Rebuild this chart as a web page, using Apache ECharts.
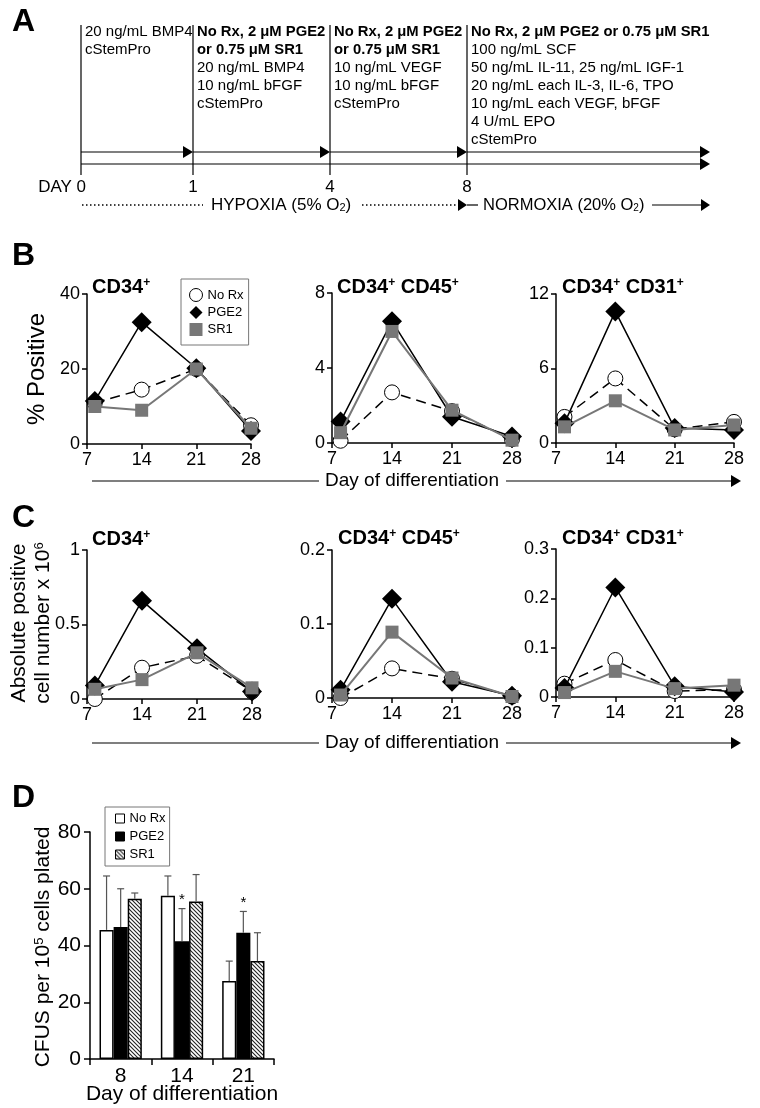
<!DOCTYPE html>
<html><head><meta charset="utf-8">
<script src="https://cdn.jsdelivr.net/npm/echarts@6/dist/echarts.min.js"></script>
<style>html,body{margin:0;padding:0;background:#fff}#c{width:760px;height:1108px}</style>
</head><body><div id="c"></div>
<script>
const FONT = '"Liberation Sans", Arial, Helvetica, sans-serif';

// ---------- DATA ----------
const days = [8, 14, 21, 28];
// Panel B: % positive
const pctCD34NoRx = [11, 14.5, 20, 5];
const pctCD34Pge2 = [11.5, 32.5, 20.2, 3.5];
const pctCD34Sr1  = [10, 9, 20, 4.2];
const pctCD45NoRx = [0.12, 2.7, 1.7, 0.2];
const pctCD45Pge2 = [1.15, 6.5, 1.4, 0.35];
const pctCD45Sr1  = [0.55, 5.95, 1.75, 0.15];
const pctCD31NoRx = [2.1, 5.2, 1.1, 1.7];
const pctCD31Pge2 = [1.6, 10.6, 1.2, 1.05];
const pctCD31Sr1  = [1.3, 3.4, 1.05, 1.45];
// Panel C: absolute number x 10^6
const absCD34NoRx = [0.0, 0.21, 0.29, 0.05];
const absCD34Pge2 = [0.09, 0.66, 0.34, 0.05];
const absCD34Sr1  = [0.065, 0.13, 0.31, 0.075];
const absCD45NoRx = [0.0, 0.04, 0.026, 0.002];
const absCD45Pge2 = [0.011, 0.134, 0.022, 0.003];
const absCD45Sr1  = [0.004, 0.089, 0.027, 0.002];
const absCD31NoRx = [0.027, 0.075, 0.012, 0.015];
const absCD31Pge2 = [0.018, 0.222, 0.022, 0.01];
const absCD31Sr1  = [0.009, 0.052, 0.017, 0.024];
// Panel D: CFUs
const cfuDays = ['8', '14', '21'];
const cfuNoRx = [45.5, 57.5, 27.5];
const cfuNoRxErr = [64.5, 64.5, 34.5];
const cfuPge2 = [46.5, 41.5, 44.5];
const cfuPge2Err = [60, 53, 52];
const cfuSr1 = [56.5, 55.5, 34.5];
const cfuSr1Err = [58.5, 65, 44.5];
const cfuPge2Sig = [0, 1, 1];
// Panel A: protocol
const stageDays = ['DAY 0', '1', '4', '8'];
const stageBold = [[], ['No Rx, 2 \u03bcM PGE2', 'or 0.75 \u03bcM SR1'], ['No Rx, 2 \u03bcM PGE2', 'or 0.75 \u03bcM SR1'], ['No Rx, 2 \u03bcM PGE2 or 0.75 \u03bcM SR1']];
const stageText = [
  ['20 ng/mL BMP4', 'cStemPro'],
  ['20 ng/mL BMP4', '10 ng/mL bFGF', 'cStemPro'],
  ['10 ng/mL VEGF', '10 ng/mL bFGF', 'cStemPro'],
  ['100 ng/mL SCF', '50 ng/mL IL-11, 25 ng/mL IGF-1', '20 ng/mL each IL-3, IL-6, TPO', '10 ng/mL each VEGF, bFGF', '4 U/mL EPO', 'cStemPro']
];

// ---------- LAYOUT ----------
const stageX = [81, 193, 330, 467];
const tlEnd = 710;
const BAR_GAP = 0.31;

const gridsDef = [
  {left: 87, top: 294, width: 164, height: 150},
  {left: 332, top: 293, width: 180, height: 150},
  {left: 556, top: 294, width: 178, height: 149},
  {left: 87, top: 550, width: 165, height: 149},
  {left: 332, top: 550, width: 180, height: 148},
  {left: 556, top: 549, width: 178, height: 148},
  {left: 90, top: 832, width: 184, height: 227}
];
const yMax = [[40, 20], [8, 4], [12, 6], [1, 0.5], [0.2, 0.1], [0.3, 0.1]];

const axisLineS = {show: true, onZero: false, lineStyle: {color: '#000', width: 1.5}};
const axisTickS = {show: true, length: 5, lineStyle: {color: '#000', width: 1.5}};

const xAxes = [], yAxes = [];
for (let i = 0; i < 6; i++) {
  xAxes.push({gridIndex: i, type: 'value', min: 7, max: 28, interval: 7,
    axisLine: axisLineS, axisTick: axisTickS, splitLine: {show: false},
    axisLabel: {fontSize: 18, color: '#000', margin: 7, fontFamily: FONT}});
  yAxes.push({gridIndex: i, type: 'value', min: 0, max: yMax[i][0], interval: yMax[i][1],
    axisLine: axisLineS, axisTick: axisTickS, splitLine: {show: false},
    axisLabel: {fontSize: 18, color: '#000', margin: 7, fontFamily: FONT}});
}
xAxes.push({gridIndex: 6, type: 'category', data: cfuDays,
  axisLine: axisLineS, axisTick: {show: true, length: 6, lineStyle: {color: '#000', width: 1.5}},
  axisLabel: {fontSize: 21, color: '#000', margin: 7, fontFamily: FONT}});
yAxes.push({gridIndex: 6, type: 'value', min: 0, max: 80, interval: 20,
  axisLine: axisLineS, axisTick: {show: true, length: 6, lineStyle: {color: '#000', width: 1.5}}, splitLine: {show: false},
  axisLabel: {fontSize: 21, color: '#000', margin: 9, fontFamily: FONT}});

const styles = {
  'No Rx': {symbol: 'circle', symbolSize: 15, itemStyle: {color: '#fff', borderColor: '#000', borderWidth: 1}, lineStyle: {color: '#000', width: 1.5, type: [10, 6]}, z: 2},
  'PGE2': {symbol: 'diamond', symbolSize: 20, itemStyle: {color: '#000'}, lineStyle: {color: '#000', width: 1.5}, z: 3},
  'SR1': {symbol: 'rect', symbolSize: 13, itemStyle: {color: '#777'}, lineStyle: {color: '#777', width: 2}, z: 4}
};
const seriesSets = [
  [pctCD34NoRx, pctCD34Pge2, pctCD34Sr1],
  [pctCD45NoRx, pctCD45Pge2, pctCD45Sr1],
  [pctCD31NoRx, pctCD31Pge2, pctCD31Sr1],
  [absCD34NoRx, absCD34Pge2, absCD34Sr1],
  [absCD45NoRx, absCD45Pge2, absCD45Sr1],
  [absCD31NoRx, absCD31Pge2, absCD31Sr1]
];
const names = ['No Rx', 'PGE2', 'SR1'];
const series = [];
seriesSets.forEach((set, gi) => {
  set.forEach((vals, si) => {
    const st = styles[names[si]];
    series.push(Object.assign({
      type: 'line', name: names[si], xAxisIndex: gi, yAxisIndex: gi,
      data: days.map((d, k) => [d, vals[k]]), showSymbol: true, clip: false,
      emphasis: {disabled: true}
    }, st));
  });
});

function hatchCanvas() {
  const c = document.createElement('canvas'); c.width = 4; c.height = 4;
  const g = c.getContext('2d');
  g.fillStyle = '#fff'; g.fillRect(0, 0, 4, 4);
  g.strokeStyle = '#222'; g.lineWidth = 1.1;
  g.beginPath();
  g.moveTo(0, 0); g.lineTo(4, 4);
  g.moveTo(-1, 3); g.lineTo(1, 5);
  g.moveTo(3, -1); g.lineTo(5, 1);
  g.stroke();
  return c;
}
const hatch = {image: hatchCanvas(), repeat: 'repeat'};

const barColors = ['#fff', '#000', hatch];
[cfuNoRx, cfuPge2, cfuSr1].forEach((vals, si) => {
  series.push({type: 'bar', name: 'CFU ' + names[si], xAxisIndex: 6, yAxisIndex: 6, data: vals,
    barGap: '0%', barCategoryGap: (BAR_GAP * 100) + '%',
    itemStyle: {color: barColors[si], borderColor: '#000', borderWidth: 1.5},
    emphasis: {disabled: true}});
});
const errData = [];
[[cfuNoRx, cfuNoRxErr, [0, 0, 0]], [cfuPge2, cfuPge2Err, cfuPge2Sig], [cfuSr1, cfuSr1Err, [0, 0, 0]]].forEach((arr, si) => {
  cfuDays.forEach((d, ci) => errData.push([ci, si, arr[0][ci], arr[1][ci], arr[2][ci]]));
});
series.push({type: 'custom', xAxisIndex: 6, yAxisIndex: 6, data: errData, z: 5,
  renderItem: function (params, api) {
    const cat = api.value(0), s = api.value(1), mean = api.value(2), top = api.value(3), star = api.value(4);
    const band = api.size([1, 0])[0];
    const bw = band * (1 - BAR_GAP) / 3;
    const p0 = api.coord([cat, mean]);
    const p1 = api.coord([cat, top]);
    const x = p0[0] + (s - 1) * bw;
    const ch = [
      {type: 'line', shape: {x1: x, y1: p0[1], x2: x, y2: p1[1]}, style: {stroke: '#555', lineWidth: 1.2}},
      {type: 'line', shape: {x1: x - 3.5, y1: p1[1], x2: x + 3.5, y2: p1[1]}, style: {stroke: '#555', lineWidth: 1.2}}
    ];
    if (star) ch.push({type: 'text', x: x, y: p1[1] - 9, style: {text: '*', fontSize: 15, fontFamily: FONT, fill: '#000', align: 'center', verticalAlign: 'middle'}});
    return {type: 'group', children: ch};
  }
});

// ---------- GRAPHIC (schematic & labels) ----------
const G = [];
function ln(x1, y1, x2, y2, w, dash) {
  G.push({type: 'line', shape: {x1, y1, x2, y2}, style: {stroke: '#000', lineWidth: w || 1.2, lineDash: dash || null}, silent: true});
}
function arrow(x, y, l, h) {
  l = l || 10; h = h || 6;
  G.push({type: 'polygon', shape: {points: [[x - l, y - h], [x, y], [x - l, y + h]]}, style: {fill: '#000'}, silent: true});
}
function txt(x, y, text, o) {
  o = o || {};
  G.push({type: 'text', x, y, rotation: o.rot || 0, silent: true, style: {
    text, fontSize: o.size || 15, fontFamily: FONT, fontWeight: o.bold ? 'bold' : 'normal', fill: '#000',
    align: o.align || 'left', verticalAlign: o.va || 'middle', rich: o.rich, lineHeight: o.lh}});
}
const supRich = (size, bold) => ({
  m: {fontSize: size, fontWeight: bold ? 'bold' : 'normal', fontFamily: FONT, fill: '#000'},
  s: {fontSize: Math.round(size * 0.6), fontWeight: bold ? 'bold' : 'normal', fontFamily: FONT, fill: '#000', verticalAlign: 'top'},
  b: {fontSize: Math.round(size * 0.62), fontFamily: FONT, fill: '#000', verticalAlign: 'bottom'}
});

// Panel letters
txt(12, 22, 'A', {size: 32, bold: true});
txt(12, 256, 'B', {size: 32, bold: true});
txt(12, 518, 'C', {size: 32, bold: true});
txt(12, 798, 'D', {size: 32, bold: true});

// Panel A
stageX.forEach(x => ln(x, 25, x, 175));
for (let i = 0; i < 4; i++) {
  const x1 = stageX[i], x2 = i < 3 ? stageX[i + 1] : tlEnd;
  ln(x1, 152, x2 - 2, 152); arrow(x2, 152);
}
ln(stageX[0], 164, tlEnd - 2, 164); arrow(tlEnd, 164);
stageDays.forEach((d, i) => txt(i === 0 ? stageX[0] + 5 : stageX[i], 187, d, {size: 17, align: i === 0 ? 'right' : 'center'}));
stageX.forEach((x, i) => {
  let y = 32;
  stageBold[i].forEach(t => { txt(x + 4, y, t, {size: 14.8, bold: true}); y += 18; });
  stageText[i].forEach(t => { txt(x + 4, y, t, {size: 15}); y += 18; });
});
ln(82, 205, 203, 205, 1.5, [1.5, 2.5]);
txt(211, 205, '{m|HYPOXIA (5% O}{b|2}{m|)}', {size: 17, rich: supRich(17)});
ln(362, 205, 458, 205, 1.5, [1.5, 2.5]);
arrow(467, 205, 9, 6);
ln(467, 205, 478, 205);
txt(483, 205, '{m|NORMOXIA (20% O}{b|2}{m|)}', {size: 16.5, rich: supRich(16.5)});
ln(652, 205, 702, 205); arrow(710, 205, 9, 6);

// Chart titles
const titleRich = supRich(20, true);
txt(92, 287, '{m|CD34}{s|+}', {size: 20, bold: true, rich: titleRich});
txt(337, 287, '{m|CD34}{s|+}{m| CD45}{s|+}', {size: 20, bold: true, rich: titleRich});
txt(562, 287, '{m|CD34}{s|+}{m| CD31}{s|+}', {size: 20, bold: true, rich: titleRich});
txt(92, 539, '{m|CD34}{s|+}', {size: 20, bold: true, rich: titleRich});
txt(338, 538, '{m|CD34}{s|+}{m| CD45}{s|+}', {size: 20, bold: true, rich: titleRich});
txt(562, 538, '{m|CD34}{s|+}{m| CD31}{s|+}', {size: 20, bold: true, rich: titleRich});

// Axis titles
txt(37, 369, '% Positive', {size: 24, align: 'center', rot: Math.PI / 2});
txt(19, 623, 'Absolute positive', {size: 21, align: 'center', rot: Math.PI / 2});
txt(43, 623, '{m|cell number x 10}{s|6}', {size: 21, align: 'center', rot: Math.PI / 2, rich: supRich(21)});
txt(43, 947, '{m|CFUS per 10}{s|5}{m| cells plated}', {size: 21, align: 'center', rot: Math.PI / 2, rich: supRich(21)});
txt(182, 1094, 'Day of differentiation', {size: 21, align: 'center'});

// Day-of-differentiation arrows
[481, 743].forEach(y => {
  ln(92, y, 319, y);
  txt(412, y, 'Day of differentiation', {size: 19, align: 'center'});
  ln(506, y, 733, y); arrow(741, y, 10, 6);
});

const option = {
  animation: false,
  backgroundColor: '#fff',
  textStyle: {fontFamily: FONT},
  grid: gridsDef,
  xAxis: xAxes,
  yAxis: yAxes,
  legend: [
    {left: 181, top: 279, orient: 'vertical', selectedMode: false, borderColor: '#777', borderWidth: 1,
     padding: [9, 5, 9, 8], itemGap: 4, itemWidth: 13, itemHeight: 13,
     textStyle: {fontSize: 13, color: '#000', fontFamily: FONT},
     data: [
       {name: 'No Rx', icon: 'circle', itemStyle: {color: '#fff', borderColor: '#000', borderWidth: 1}},
       {name: 'PGE2', icon: 'diamond', itemStyle: {color: '#000', borderWidth: 0}},
       {name: 'SR1', icon: 'rect', itemStyle: {color: '#777', borderWidth: 0}}
     ]},
    {left: 105, top: 807, orient: 'vertical', selectedMode: false, borderColor: '#777', borderWidth: 1,
     padding: [5, 4, 5, 10], itemGap: 5, itemWidth: 9, itemHeight: 9,
     textStyle: {fontSize: 13, color: '#000', fontFamily: FONT},
     formatter: n => n.replace('CFU ', ''),
     data: [
       {name: 'CFU No Rx', icon: 'rect', itemStyle: {color: '#fff', borderColor: '#000', borderWidth: 1}},
       {name: 'CFU PGE2', icon: 'rect', itemStyle: {color: '#000', borderColor: '#000', borderWidth: 1}},
       {name: 'CFU SR1', icon: 'rect', itemStyle: {color: hatch, borderColor: '#000', borderWidth: 1}}
     ]}
  ],
  series: series,
  graphic: G
};
const chart = echarts.init(document.getElementById('c'), null, {renderer: 'canvas'});
chart.setOption(option);
</script>
</body></html>
